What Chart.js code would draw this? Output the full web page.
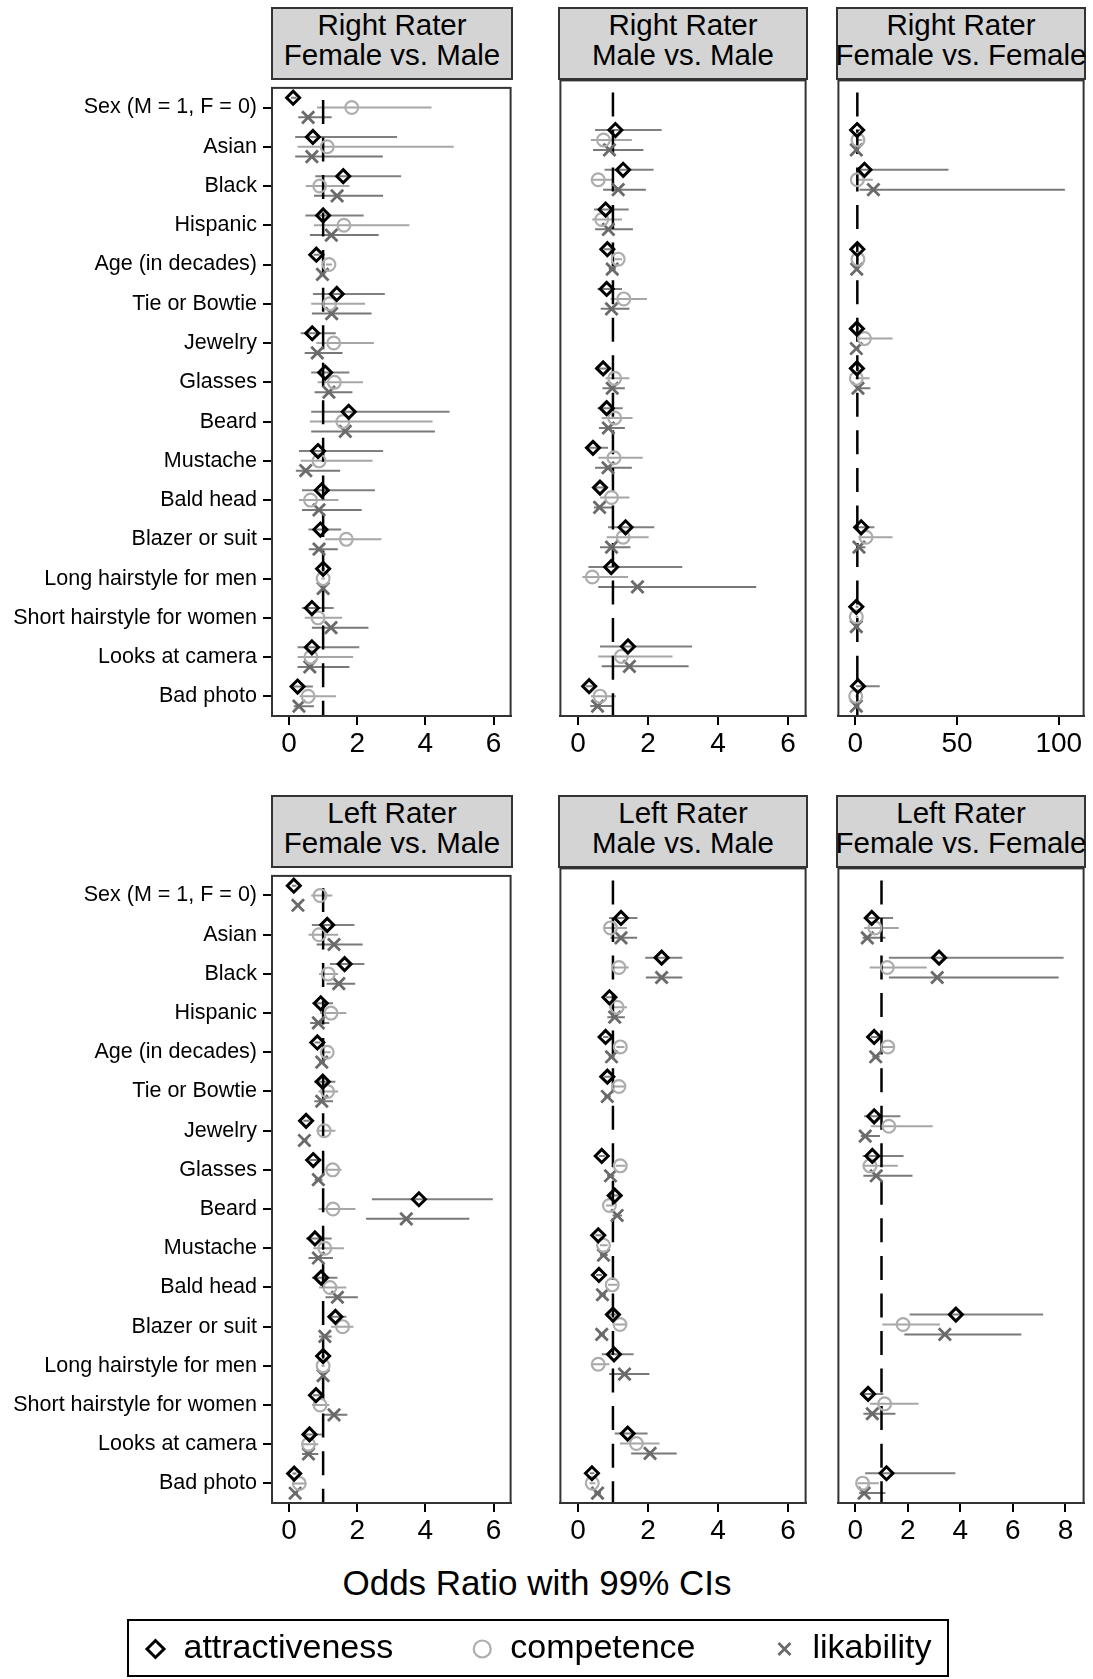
<!DOCTYPE html>
<html>
<head>
<meta charset="utf-8">
<script src="https://cdn.jsdelivr.net/npm/chart.js@4.4.1/dist/chart.umd.min.js"></script>
<style>
  body { margin: 0; background: #fff; overflow: hidden; }
  #page { position: relative; width: 1093px; height: 1679px; overflow: hidden; font-family: "Liberation Sans", Arial, sans-serif; }
  canvas { position: absolute; }
  .hdr { position: absolute; box-sizing: border-box; border: 2px solid #333; background: #d4d4d4; padding-top: 1px; }
  .hdr div { display: flex; justify-content: center; white-space: nowrap; font-size: 29.5px; line-height: 30px; height: 30px; color: #000; }
  #xtitle { position: absolute; left: 237px; width: 600px; top: 1565px; text-align: center; font-size: 35px; line-height: 35px; color: #000; }
  #legbox { position: absolute; left: 127px; top: 1619px; width: 822px; height: 58px; box-sizing: border-box; border: 2px solid #000; }
</style>
</head>
<body>
<div id="page">
  <div id="xtitle">Odds Ratio with 99% CIs</div>
  <div id="legbox"></div>
</div>
<script>
const categories = ['Sex (M = 1, F = 0)', 'Asian', 'Black', 'Hispanic', 'Age (in decades)', 'Tie or Bowtie',
  'Jewelry', 'Glasses', 'Beard', 'Mustache', 'Bald head', 'Blazer or suit', 'Long hairstyle for men',
  'Short hairstyle for women', 'Looks at camera', 'Bad photo'];
const seriesNames = ['attractiveness', 'competence', 'likability'];
const ticksSix = [0, 2, 4, 6];
const ticksHundred = [0, 50, 100];
const ticksEight = [0, 2, 4, 6, 8];
const N = null;

// each row: [odds ratio, lower 99% CI, upper 99% CI]
// Right rater, female vs. male
const rFM_attr = [[0.12,0.06,0.22],[0.70,0.18,3.17],[1.59,0.77,3.29],[1.00,0.48,2.19],[0.80,0.72,0.90],[1.40,0.70,2.81],[0.68,0.34,1.37],[1.06,0.65,1.77],[1.75,0.65,4.71],[0.85,0.29,2.76],[0.96,0.38,2.52],[0.92,0.57,1.53],[1.00,0.95,1.05],[0.67,0.38,1.31],[0.67,0.25,2.06],[0.25,0.12,0.70]];
const rFM_comp = [[1.84,0.82,4.18],[1.12,0.25,4.83],[0.90,0.49,1.77],[1.61,0.73,3.53],[1.17,1.08,1.26],[1.19,0.65,2.23],[1.31,0.80,2.49],[1.33,0.84,2.17],[1.58,0.61,4.21],[0.88,0.34,2.45],[0.63,0.29,1.45],[1.68,1.06,2.71],[1.00,0.95,1.05],[0.85,0.46,1.56],[0.64,0.25,1.88],[0.56,0.31,1.38]];
const rFM_lik = [[0.56,0.27,1.25],[0.67,0.18,2.75],[1.41,0.73,2.76],[1.24,0.61,2.63],[0.98,0.90,1.06],[1.25,0.67,2.42],[0.83,0.46,1.57],[1.17,0.75,1.86],[1.65,0.65,4.28],[0.49,0.20,1.50],[0.88,0.38,2.13],[0.88,0.58,1.43],[1.00,0.95,1.05],[1.23,0.67,2.33],[0.61,0.25,1.77],[0.29,0.14,0.73]];
// Right rater, male vs. male
const rMM_attr = [N,[1.07,0.49,2.39],[1.29,0.76,2.16],[0.79,0.46,1.45],[0.84,0.74,0.95],[0.82,0.56,1.26],N,[0.72,0.55,0.95],[0.82,0.56,1.28],[0.43,0.27,0.86],[0.63,0.50,0.85],[1.36,0.86,2.18],[0.95,0.30,2.98],N,[1.43,0.63,3.26],[0.32,0.22,0.55]];
const rMM_comp = [N,[0.73,0.37,1.54],[0.58,0.37,1.03],[0.68,0.41,1.26],[1.15,1.05,1.26],[1.31,0.93,1.97],N,[1.05,0.79,1.47],[1.05,0.68,1.56],[1.03,0.58,1.85],[0.96,0.63,1.47],[1.29,0.82,2.02],[0.41,0.13,1.43],N,[1.24,0.58,2.70],[0.63,0.37,1.09]];
const rMM_lik = [N,[0.90,0.43,1.87],[1.15,0.72,1.94],[0.87,0.49,1.57],[0.98,0.88,1.08],[0.96,0.65,1.47],N,[0.98,0.70,1.34],[0.87,0.60,1.34],[0.86,0.49,1.54],[0.62,0.46,0.98],[0.96,0.63,1.50],[1.70,0.58,5.09],N,[1.47,0.68,3.16],[0.56,0.35,0.98]];
// Right rater, female vs. female
const rFF_attr = [N,[0.9,0.3,2.5],[4.5,2.0,45.8],N,[1.0,0.7,1.4],N,[0.8,0.3,2.0],[0.8,0.3,2.0],N,N,N,[2.9,1.0,9.4],N,[0.5,0.2,1.5],N,[1.3,0.4,12.0]];
const rFF_comp = [N,[1.3,0.4,3.5],[1.0,0.3,8.6],N,[1.3,0.9,1.8],N,[4.5,1.0,18.3],[0.5,0.1,7.0],N,N,N,[5.3,1.5,18.3],N,[0.5,0.2,1.5],N,[0.2,0.05,1.0]];
const rFF_lik = [N,[0.5,0.2,1.5],[8.9,2.1,103],N,[0.7,0.5,1.0],N,[0.5,0.1,2.0],[1.3,0.4,7.4],N,N,N,[1.8,0.5,5.0],N,[0.5,0.2,1.5],N,[0.5,0.1,2.0]];
// Left rater, female vs. male
const lFM_attr = [[0.14,0.08,0.22],[1.12,0.67,1.92],[1.63,1.20,2.21],[0.93,0.69,1.29],[0.83,0.75,0.92],[0.99,0.74,1.36],[0.50,0.42,0.60],[0.71,0.60,0.85],[3.81,2.43,5.98],[0.76,0.50,1.25],[0.94,0.67,1.42],[1.36,1.15,1.68],[1.00,0.95,1.05],[0.79,0.70,0.90],[0.60,0.38,0.96],[0.15,0.10,0.22]];
const lFM_comp = [[0.91,0.65,1.27],[0.88,0.57,1.44],[1.15,0.88,1.44],[1.23,0.91,1.68],[1.12,1.03,1.22],[1.13,0.86,1.44],[1.03,0.81,1.36],[1.28,1.05,1.54],[1.29,0.86,1.95],[1.05,0.71,1.61],[1.20,0.88,1.68],[1.57,1.23,1.89],[1.00,0.95,1.05],[0.91,0.67,1.18],[0.57,0.38,0.86],[0.30,0.14,0.47]];
const lFM_lik = [[0.26,0.20,0.33],[1.32,0.81,2.16],[1.46,1.10,1.94],[0.86,0.62,1.18],[0.96,0.88,1.05],[0.96,0.74,1.29],[0.45,0.38,0.54],[0.86,0.75,0.98],[3.44,2.26,5.29],[0.86,0.57,1.29],[1.42,1.07,2.02],[1.05,0.88,1.25],[1.00,0.95,1.05],[1.32,1.00,1.71],[0.57,0.38,0.86],[0.18,0.12,0.26]];
// Left rater, male vs. male
const lMM_attr = [N,[1.23,0.89,1.70],[2.39,1.92,2.98],[0.90,0.80,1.02],[0.79,0.72,0.87],[0.84,0.75,0.94],N,[0.68,0.60,0.77],[1.05,0.92,1.18],[0.58,0.50,0.67],[0.60,0.52,0.69],[1.00,0.90,1.11],[1.03,0.68,1.59],N,[1.42,1.05,1.99],[0.40,0.34,0.47]];
const lMM_comp = [N,[0.93,0.76,1.40],[1.17,0.98,1.45],[1.12,0.89,1.40],[1.21,1.10,1.33],[1.17,1.04,1.32],N,[1.21,1.08,1.36],[0.90,0.80,1.02],[0.73,0.63,0.85],[0.98,0.86,1.12],[1.20,1.06,1.36],[0.58,0.40,0.90],N,[1.67,1.20,2.33],[0.41,0.33,0.50]];
const lMM_lik = [N,[1.23,0.93,1.69],[2.39,1.94,2.98],[1.05,0.84,1.34],[0.96,0.88,1.05],[0.84,0.75,0.94],N,[0.93,0.83,1.04],[1.12,0.99,1.26],[0.73,0.63,0.85],[0.70,0.61,0.80],[0.68,0.60,0.77],[1.33,0.89,2.04],N,[2.06,1.52,2.82],[0.56,0.47,0.66]];
// Left rater, female vs. female
const lFF_attr = [N,[0.63,0.34,1.44],[3.19,1.28,7.93],N,[0.72,0.60,0.86],N,[0.72,0.34,1.72],[0.65,0.28,1.84],N,N,N,[3.83,2.07,7.15],N,[0.49,0.34,1.07],N,[1.19,0.38,3.81]];
const lFF_comp = [N,[0.75,0.34,1.66],[1.22,0.55,2.72],N,[1.24,1.05,1.45],N,[1.28,0.59,2.95],[0.56,0.28,1.62],N,N,N,[1.82,1.03,3.22],N,[1.12,0.56,2.41],N,[0.28,0.09,0.90]];
const lFF_lik = [N,[0.46,0.28,1.15],[3.12,1.28,7.74],N,[0.78,0.65,0.93],N,[0.38,0.21,0.94],[0.80,0.31,2.18],N,N,N,[3.41,1.87,6.32],N,[0.65,0.31,1.53],N,[0.34,0.15,1.15]];

const refOddsRatio = 1;

const FONT = '"Liberation Sans", Arial, sans-serif';
const offsets = [-0.25, 0, 0.25];
const markerStyle = ['rectRot', 'circle', 'crossRot'];
const markerColor = ['#000000', '#adadad', '#6a6a6a'];
const ciColor = ['#808080', '#a6a6a6', '#787878'];
const markerRadius = [6.5, 6.4, 8.6];
const markerWidth = [3, 2.2, 2.8];

const panels = [
  { title: ['Right Rater', 'Female vs. Male'], rows: [rFM_attr, rFM_comp, rFM_lik], L: 272, R: 512, T: 79, B: 716, min: -0.5, max: 6.5, ticks: ticksSix, labels: true },
  { title: ['Right Rater', 'Male vs. Male'], rows: [rMM_attr, rMM_comp, rMM_lik], L: 559, R: 807, T: 79, B: 716, min: -0.5, max: 6.5, ticks: ticksSix, labels: false },
  { title: ['Right Rater', 'Female vs. Female'], rows: [rFF_attr, rFF_comp, rFF_lik], L: 837, R: 1085, T: 79, B: 716, min: -8.3, max: 112.2, ticks: ticksHundred, labels: false },
  { title: ['Left Rater', 'Female vs. Male'], rows: [lFM_attr, lFM_comp, lFM_lik], L: 272, R: 512, T: 867, B: 1503, min: -0.5, max: 6.5, ticks: ticksSix, labels: true },
  { title: ['Left Rater', 'Male vs. Male'], rows: [lMM_attr, lMM_comp, lMM_lik], L: 559, R: 807, T: 867, B: 1503, min: -0.5, max: 6.5, ticks: ticksSix, labels: false },
  { title: ['Left Rater', 'Female vs. Female'], rows: [lFF_attr, lFF_comp, lFF_lik], L: 837, R: 1085, T: 867, B: 1503, min: -0.64, max: 8.69, ticks: ticksEight, labels: false }
];

// box around the plot region
const framePlugin = {
  id: 'frame',
  afterDatasetsDraw(chart) {
    const a = chart.chartArea;
    const ctx = chart.ctx;
    ctx.save();
    ctx.strokeStyle = '#333';
    ctx.lineWidth = 2;
    ctx.strokeRect(a.left, a.top, a.right - a.left, a.bottom - a.top);
    ctx.restore();
  }
};

function puntosEstimacion(rows, off) {
  const pts = [];
  rows.forEach((r, i) => { if (r) pts.push({ x: r[0], y: i + off }); });
  return pts;
}

function puntosIntervalo(rows, off) {
  const pts = [];
  rows.forEach((r, i) => {
    if (r) {
      pts.push({ x: r[1], y: i + off }, { x: r[2], y: i + off }, { x: null, y: null });
    }
  });
  return pts;
}

const page = document.getElementById('page');
const axisGrid = { drawOnChartArea: false, drawTicks: true, tickLength: 9, color: '#000', lineWidth: 2 };
const axisBorder = { display: true, color: '#333', width: 2 };

panels.forEach(p => {
  const hdr = document.createElement('div');
  hdr.className = 'hdr';
  hdr.style.left = (p.L - 1) + 'px';
  hdr.style.top = (p.T - 72) + 'px';
  hdr.style.width = (p.R - p.L + 2) + 'px';
  hdr.style.height = '73px';
  p.title.forEach(t => {
    const d = document.createElement('div');
    d.textContent = t;
    hdr.appendChild(d);
  });
  page.appendChild(hdr);

  const cv = document.createElement('canvas');
  const left = p.labels ? 0 : p.L - 10;
  cv.width = p.R + 10 - left;
  cv.height = p.B - p.T + 60;
  cv.style.left = left + 'px';
  cv.style.top = (p.T - 10) + 'px';
  page.appendChild(cv);

  const datasets = [];
  p.rows.forEach((rows, s) => {
    datasets.push({
      label: seriesNames[s],
      data: puntosEstimacion(rows, offsets[s]),
      order: 0,
      showLine: false,
      pointStyle: markerStyle[s],
      pointRadius: markerRadius[s],
      pointBorderColor: markerColor[s],
      pointBackgroundColor: 'rgba(0,0,0,0)',
      pointBorderWidth: markerWidth[s]
    });
    datasets.push({
      data: puntosIntervalo(rows, offsets[s]),
      order: 2,
      showLine: true,
      spanGaps: false,
      borderColor: ciColor[s],
      borderWidth: 2,
      pointRadius: 0
    });
  });
  datasets.push({
    data: [{ x: refOddsRatio, y: -0.5 }, { x: refOddsRatio, y: categories.length - 0.5 }],
    order: 1,
    showLine: true,
    borderColor: '#000',
    borderWidth: 2.5,
    borderDash: [24, 13.55],
    borderDashOffset: 25.55,
    pointRadius: 0
  });

  const yScale = {
    type: 'linear',
    reverse: true,
    min: -0.5,
    max: categories.length - 0.5,
    display: p.labels,
    afterBuildTicks: a => { a.ticks = categories.map((c, i) => ({ value: i })); },
    grid: axisGrid,
    border: axisBorder,
    ticks: { color: '#000', font: { family: FONT, size: 21.5 }, padding: 6, autoSkip: false,
             callback: v => categories[v] }
  };
  if (p.labels) {
    yScale.afterFit = a => { a.width = p.L; };
  }

  new Chart(cv, {
    type: 'scatter',
    data: { datasets: datasets },
    plugins: [framePlugin],
    options: {
      responsive: false,
      animation: false,
      events: [],
      layout: { padding: { left: p.labels ? 0 : 10, right: 10, top: 10, bottom: 0 } },
      plugins: { legend: { display: false }, tooltip: { enabled: false } },
      scales: {
        x: {
          type: 'linear',
          min: p.min,
          max: p.max,
          afterBuildTicks: a => { a.ticks = p.ticks.map(v => ({ value: v })); },
          afterFit: a => { a.height = 50; },
          grid: axisGrid,
          border: axisBorder,
          ticks: { color: '#000', font: { family: FONT, size: 28 }, padding: 2, maxRotation: 0, autoSkip: false }
        },
        y: yScale
      }
    }
  });
});

// legend drawn by a chart with no data of its own
const lc = document.createElement('canvas');
lc.width = 980;
lc.height = 280;
lc.style.left = '48px';
lc.style.top = '1554px';
page.appendChild(lc);
new Chart(lc, {
  type: 'scatter',
  data: {
    datasets: seriesNames.map((n, s) => ({
      label: n,
      data: [],
      pointStyle: markerStyle[s],
      borderColor: markerColor[s],
      backgroundColor: 'rgba(0,0,0,0)',
      borderWidth: markerWidth[s]
    }))
  },
  options: {
    responsive: false,
    animation: false,
    events: [],
    scales: { x: { display: false }, y: { display: false } },
    plugins: {
      tooltip: { enabled: false },
      legend: {
        display: true,
        position: 'top',
        align: 'center',
        labels: { usePointStyle: true, boxWidth: 22, boxHeight: 12, padding: 78, color: '#000',
                  font: { family: FONT, size: 34 } }
      }
    }
  }
});
</script>
</body>
</html>
